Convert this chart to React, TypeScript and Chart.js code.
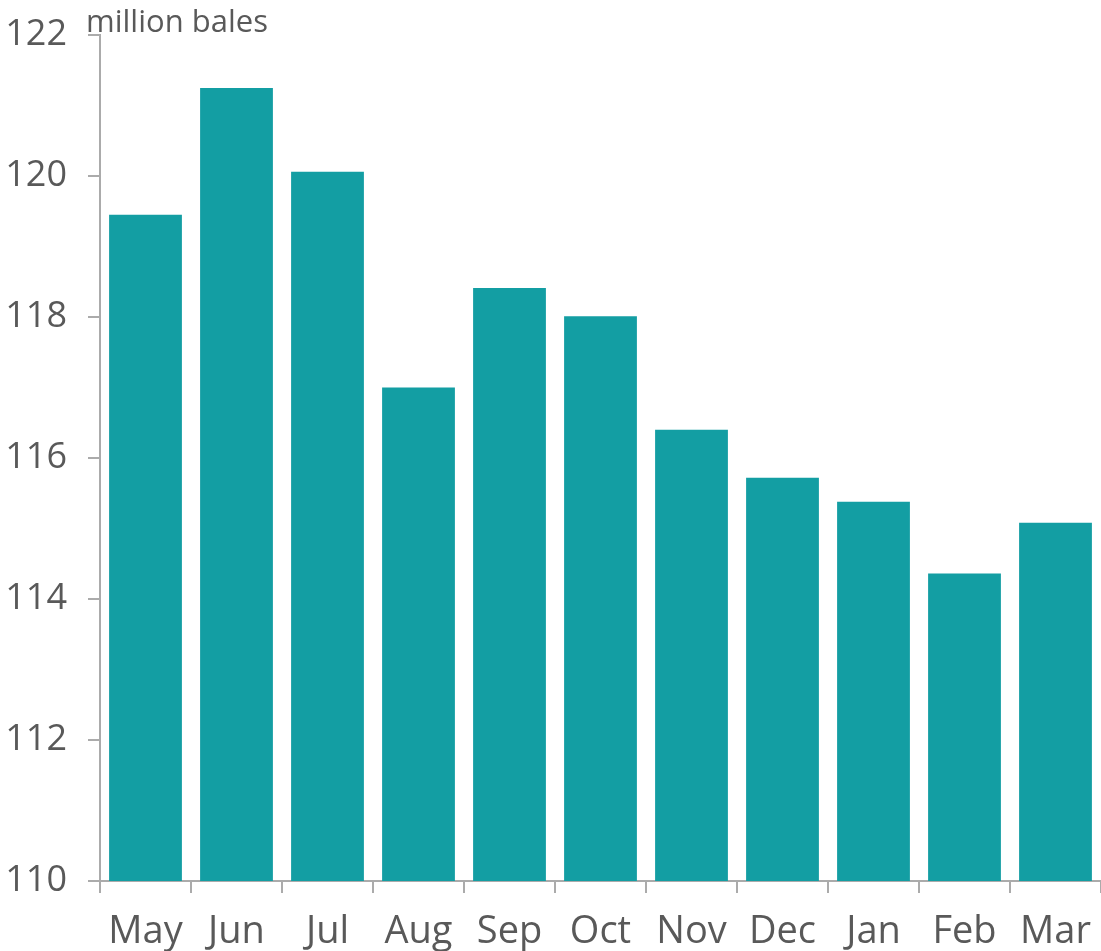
import React, { useEffect, useRef } from "react";
import { Chart, registerables } from "chart.js";

Chart.register(...registerables);

const categories = ["May", "Jun", "Jul", "Aug", "Sep", "Oct", "Nov", "Dec", "Jan", "Feb", "Mar"];
const values = [119.45, 121.25, 120.06, 117.0, 118.41, 118.01, 116.4, 115.72, 115.38, 114.36, 115.08];
const unitLabel = "million bales";
const yMin = 110;
const yMax = 122;
const yStep = 2;

const FONT = "'Open Sans', 'DejaVu Sans', sans-serif";
const TEXT = "#595959";
const AXIS = "#ababab";
const BAR = "#139ea3";

export default function App() {
  const ref = useRef<HTMLCanvasElement | null>(null);

  useEffect(() => {
    document.body.style.margin = "0";
    const canvas = ref.current;
    if (!canvas) return;

    const unitPlugin = {
      id: "unitLabel",
      afterDraw(chart: any) {
        const ctx = chart.ctx;
        ctx.save();
        ctx.font = `31px ${FONT}`;
        ctx.fillStyle = TEXT;
        ctx.textAlign = "left";
        ctx.textBaseline = "alphabetic";
        ctx.fillText(unitLabel, 86, 32);
        ctx.restore();
      },
    };

    const chart = new Chart(canvas, {
      type: "bar",
      data: {
        labels: categories,
        datasets: [
          {
            data: values,
            backgroundColor: BAR,
            borderWidth: 0,
            categoryPercentage: 0.8,
            barPercentage: 1,
          },
        ],
      },
      options: {
        animation: false,
        responsive: false,
        maintainAspectRatio: false,
        layout: { padding: { top: 35, right: 0, left: 0, bottom: 0 } },
        plugins: {
          legend: { display: false },
          tooltip: { enabled: false },
          title: { display: false },
        },
        scales: {
          x: {
            afterFit(scale: any) {
              scale.height = 70;
              scale.paddingLeft = 0;
              scale.paddingRight = 0;
            },
            grid: {
              offset: true,
              drawOnChartArea: false,
              drawTicks: true,
              tickLength: 12,
              color: AXIS,
              lineWidth: 2,
            },
            border: { color: AXIS, width: 2 },
            ticks: {
              color: TEXT,
              font: { family: FONT, size: 38 },
              padding: 16,
              maxRotation: 0,
              autoSkip: false,
            },
          },
          y: {
            min: yMin,
            max: yMax,
            afterFit(scale: any) {
              scale.width = 100;
              scale.paddingTop = 0;
              scale.paddingBottom = 0;
            },
            grid: {
              drawOnChartArea: false,
              drawTicks: true,
              tickLength: 12,
              color: AXIS,
              lineWidth: 2,
            },
            border: { color: AXIS, width: 2 },
            ticks: {
              stepSize: yStep,
              color: TEXT,
              font: { family: FONT, size: 36 },
              padding: 21,
            },
          },
        },
      },
      plugins: [unitPlugin],
    });

    return () => chart.destroy();
  }, []);

  return (
    <div style={{ width: 1101, height: 951 }}>
      <canvas ref={ref} width={1101} height={951} style={{ display: "block" }} />
    </div>
  );
}
